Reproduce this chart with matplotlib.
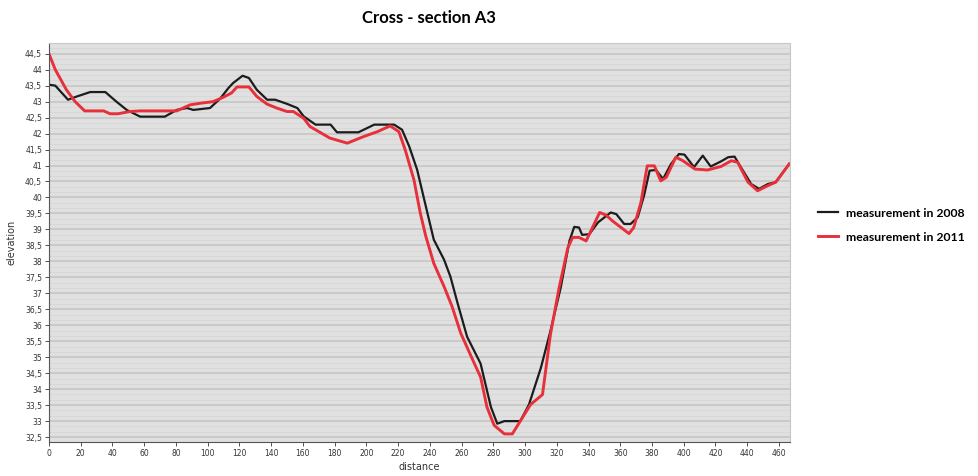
import numpy as np
import matplotlib.pyplot as plt
from matplotlib.ticker import MultipleLocator

# cross-section A3
dist_2008 = [0, 4, 12, 17.5, 26, 35.5, 42.5, 49, 57.5, 73, 80.5, 87, 91, 101.5, 108, 113, 116, 122, 126,
             131, 137.5, 142.5, 150, 156.5, 160.5, 168, 177.5, 181.5, 195, 205, 217.5, 222.5, 227, 232,
             237.5, 242.5, 249, 253, 257.5, 263.5, 272, 274, 278.5, 282.5, 287, 297, 302.5, 310, 316,
             322.5, 328, 331, 334, 336, 340.5, 346, 354, 357.5, 362.5, 366.5, 371, 375, 378.5, 382.5,
             387, 392, 397, 400.5, 406.5, 412, 417, 423.5, 428, 432, 436, 442.5, 447.5, 453, 458, 466.5]
elev_2008 = [43.53, 43.5, 43.06, 43.16, 43.3, 43.3, 43.0, 42.74, 42.53, 42.53, 42.74, 42.8, 42.74, 42.8,
             43.1, 43.42, 43.58, 43.81, 43.74, 43.37, 43.06, 43.06, 42.93, 42.8, 42.54, 42.28, 42.28,
             42.04, 42.04, 42.28, 42.28, 42.12, 41.6, 40.87, 39.72, 38.68, 38.05, 37.52, 36.69, 35.64,
             34.8, 34.38, 33.44, 32.92, 33.0, 33.0, 33.52, 34.67, 35.82, 37.18, 38.64, 39.08, 39.06,
             38.83, 38.85, 39.22, 39.53, 39.48, 39.17, 39.17, 39.38, 40.06, 40.84, 40.86, 40.58, 41.05,
             41.36, 41.34, 40.95, 41.31, 40.97, 41.13, 41.26, 41.28, 40.95, 40.42, 40.27, 40.42, 40.48,
             41.05]

dist_2011 = [0, 4, 11, 16.5, 22.5, 34.5, 38.5, 43.5, 51, 57.5, 80.5, 89, 95.5, 103.5, 110, 115, 118.5,
             126, 131, 137.5, 143.5, 150, 154, 160.5, 164.5, 177, 188, 198.5, 207, 215, 220.5, 224.5,
             230, 234, 237.5, 242.5, 249, 254, 259.5, 268, 272, 276, 280.5, 287, 292, 297, 303.5, 311,
             316, 321.5, 327, 330, 334, 338.5, 342.5, 347, 351, 355, 360.5, 365.5, 368.5, 373, 377,
             381.5, 385.5, 389, 395, 399.5, 407, 415, 423.5, 430, 434, 440.5, 446.5, 453, 458, 466.5]
elev_2011 = [44.5, 44.0, 43.37, 43.0, 42.71, 42.71, 42.62, 42.62, 42.69, 42.71, 42.71, 42.9, 42.95, 43.0,
             43.14, 43.27, 43.46, 43.46, 43.16, 42.92, 42.8, 42.69, 42.69, 42.48, 42.22, 41.86, 41.7,
             41.91, 42.06, 42.24, 42.06, 41.49, 40.55, 39.51, 38.78, 37.94, 37.21, 36.59, 35.75, 34.81,
             34.38, 33.44, 32.87, 32.6, 32.6, 33.0, 33.52, 33.83, 35.71, 37.18, 38.43, 38.75, 38.75,
             38.64, 39.06, 39.53, 39.45, 39.27, 39.06, 38.87, 39.06, 39.84, 40.99, 40.99, 40.52, 40.63,
             41.26, 41.15, 40.89, 40.86, 40.97, 41.15, 41.1, 40.48, 40.21, 40.37, 40.48, 41.05]

x_ticks = list(range(0, 461, 20))
y_ticks = [32.5 + 0.5 * i for i in range(25)]

fig = plt.figure(figsize=(9.79, 4.76), dpi=100)
ax = fig.add_axes([0.05, 0.071, 0.757, 0.839])
ax.set_facecolor('#e0e0e0')

ax.plot(dist_2008, elev_2008, color='#1c1c1c', lw=1.6, solid_joinstyle='round',
        label='measurement in 2008')
ax.plot(dist_2011, elev_2011, color='#e8303a', lw=2.1, solid_joinstyle='round',
        label='measurement in 2011')

ax.set_xlim(0, 467)
ax.set_ylim(32.34, 44.84)
ax.set_xticks(x_ticks)
ax.set_xticklabels([str(t) for t in x_ticks])
ax.set_yticks(y_ticks)
ax.set_yticklabels([('%g' % t).replace('.', ',') for t in y_ticks])
ax.yaxis.set_minor_locator(MultipleLocator(0.5 / 3))
ax.tick_params(axis='both', labelsize=5.5, length=3, width=0.6, colors='#333333', pad=2)
ax.tick_params(axis='y', which='minor', length=0)

ax.grid(axis='y', which='major', color='#c4c4c4', lw=1.1)
ax.grid(axis='y', which='minor', color='#d8d8d8', lw=0.7)
ax.set_axisbelow(True)

for s in ['left', 'bottom']:
    ax.spines[s].set_color('#555555')
    ax.spines[s].set_linewidth(0.8)
for s in ['top', 'right']:
    ax.spines[s].set_color('#c8c8c8')

ax.set_xlabel('distance', fontsize=7, color='#333333', labelpad=3)
ax.set_ylabel('elevation', fontsize=7, color='#333333', labelpad=6)

fig.text(0.438, 0.962, 'Cross - section A3', ha='center', va='center',
         fontsize=12.0, fontweight='bold', family='Lato')

fig.legend(loc='center left', bbox_to_anchor=(0.824, 0.527), frameon=False,
           prop={'family': 'Lato', 'weight': 'bold', 'size': 8.8},
           handlelength=1.7, labelspacing=1.05, handletextpad=0.6)

plt.savefig('out.png', dpi=100)
